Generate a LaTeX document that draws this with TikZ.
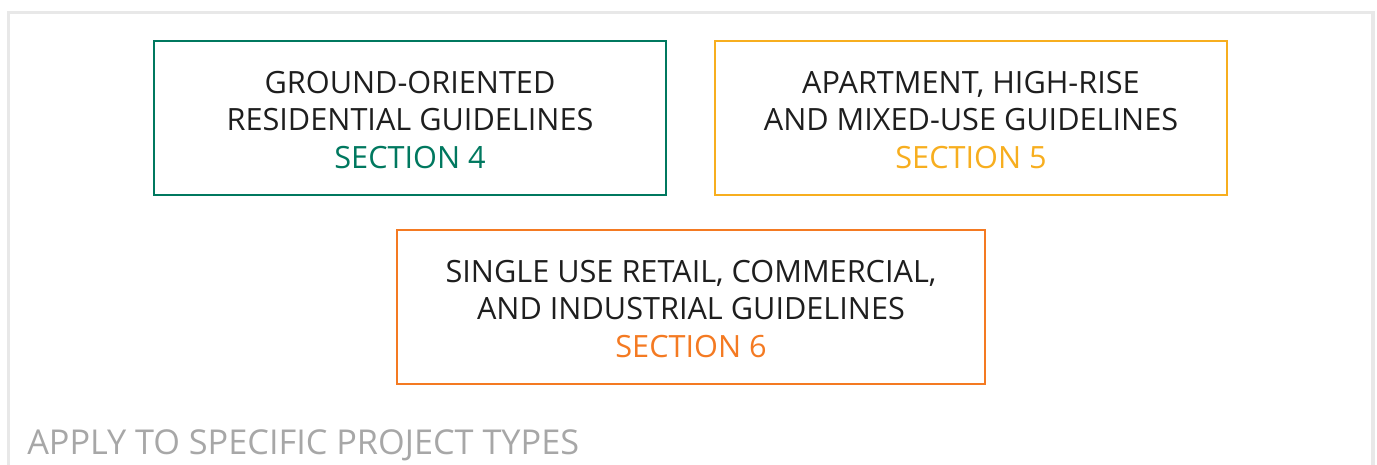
\documentclass[tikz,border=0pt]{standalone}
\usepackage{fontspec}
\setmainfont{Open Sans}
\definecolor{guidegreen}{HTML}{00785F}
\definecolor{guideyellow}{HTML}{F7AE1F}
\definecolor{guideorange}{HTML}{F47A22}
\definecolor{guidetext}{HTML}{1E1E1E}
\definecolor{guidegray}{HTML}{A7A7A7}
\definecolor{framegray}{HTML}{E8E8E8}
\newcommand\boxlift{\rule{0pt}{19.5pt}}
\begin{document}
\begin{tikzpicture}[
    x=0.75pt,y=-0.75pt,
    guidebox/.style={draw,line width=2pt,align=center,inner sep=0pt,
        minimum width=384pt,minimum height=115.5pt,text=guidetext,
        font=\fontsize{23pt}{28pt}\selectfont},
    widebox/.style={guidebox,minimum width=441pt}
]
\useasboundingbox (0,0) rectangle (1377,464);
\draw[framegray,line width=2.3pt] (8.5,12.5) rectangle (1373,480);

\node[guidebox,draw=guidegreen] (ground) at (410,118)
    {\boxlift GROUND-ORIENTED\\RESIDENTIAL GUIDELINES\\\textcolor{guidegreen}{SECTION 4}};
\node[guidebox,draw=guideyellow] (apartment) at (971,118)
    {\boxlift APARTMENT, HIGH-RISE\\AND MIXED-USE GUIDELINES\\\textcolor{guideyellow}{SECTION 5}};
\node[widebox,draw=guideorange] (retail) at (691,307)
    {\boxlift SINGLE USE RETAIL, COMMERCIAL,\\AND INDUSTRIAL GUIDELINES\\\textcolor{guideorange}{SECTION 6}};

\node[anchor=base west,inner sep=0pt,text=guidegray,
    font=\fontsize{25.7pt}{28pt}\selectfont] (apply) at (27,454)
    {APPLY TO SPECIFIC PROJECT TYPES};
\end{tikzpicture}
\end{document}
